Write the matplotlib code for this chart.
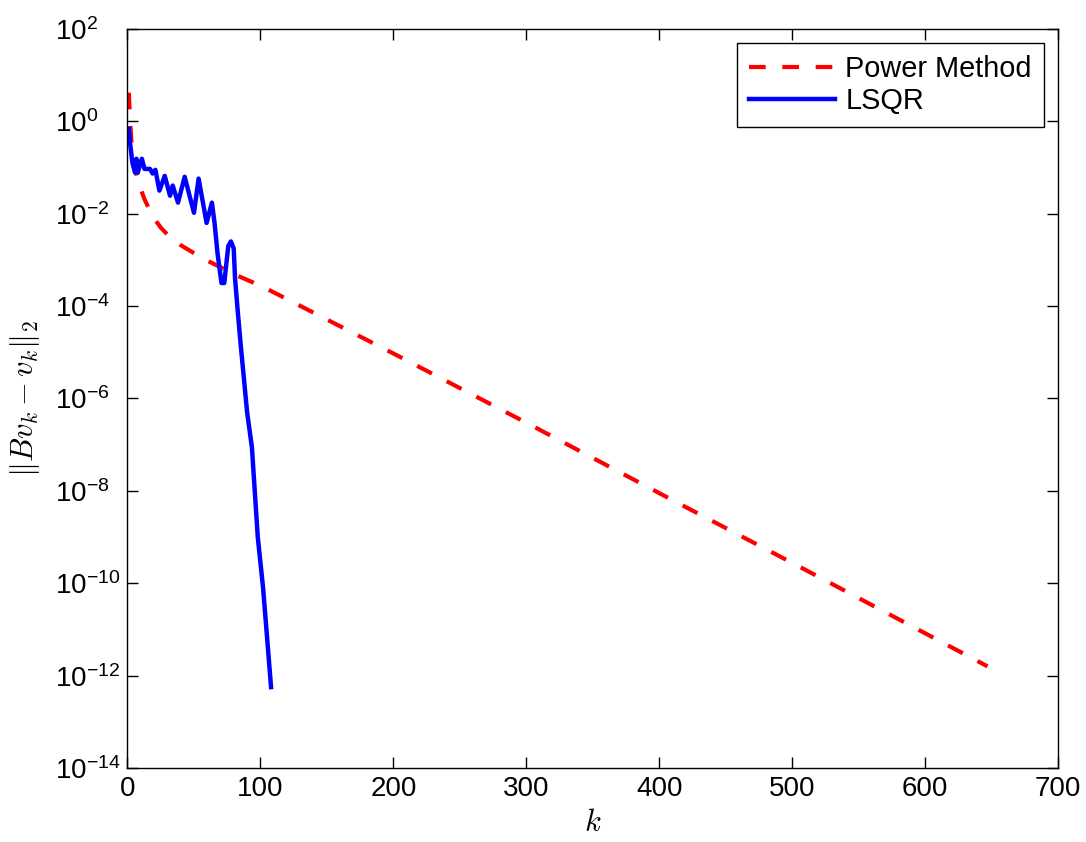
import numpy as np
import matplotlib
matplotlib.use("Agg")
import matplotlib.pyplot as plt
from matplotlib.ticker import FuncFormatter, NullLocator

plt.rcParams["font.family"] = ["Liberation Sans", "DejaVu Sans"]
plt.rcParams["mathtext.fontset"] = "custom"
plt.rcParams["mathtext.rm"] = "Liberation Sans"

# Power method residual (log10)
k_power = [1, 2, 3, 4, 6, 8, 10, 13, 16, 20, 25, 30, 40, 51, 61, 81, 101,
           152, 203, 305, 406, 508, 609, 647]
log_power = [0.62, 0.0, -0.45, -0.75, -1.05, -1.3, -1.47, -1.7, -1.88, -2.1,
             -2.3, -2.45, -2.68, -2.87, -3.03, -3.32, -3.57, -4.32, -5.07,
             -6.6, -8.14, -9.68, -11.22, -11.8]

# LSQR residual (log10)
k_lsqr = [1, 2, 3.7, 5.7, 6.7, 7.7, 10.8, 12.8, 16.9, 18.9, 21, 24, 28, 32,
          34, 38, 43, 50, 53.5, 59.5, 63.5, 65.5, 67.7, 70.7, 72.8, 75.8,
          77.8, 79.9, 80.9, 82.9, 85, 90, 93.6, 98, 102, 108]
log_lsqr = [-0.16, -0.49, -0.9, -1.11, -0.81, -1.11, -0.81, -1.03, -1.03,
            -1.13, -1.05, -1.5, -1.18, -1.61, -1.39, -1.76, -1.2, -1.98,
            -1.24, -2.2, -1.76, -2.2, -2.85, -3.5, -3.5, -2.7, -2.6, -2.75,
            -3.4, -4.1, -4.79, -6.3, -7.06, -9.0, -10.1, -12.25]

fig = plt.figure(figsize=(10.86, 8.42), dpi=100)
ax = fig.add_axes([0.1174, 0.0879, 0.8568, 0.8777])

ax.semilogy(k_power, 10.0 ** np.array(log_power), color="red", lw=3,
            linestyle=(0, (4, 4)), label="Power Method")
ax.semilogy(k_lsqr, 10.0 ** np.array(log_lsqr), color="blue", lw=3.2,
            label="LSQR")

ax.set_xlim(0, 700)
ax.set_ylim(1e-14, 1e2)
ax.set_xticks(np.arange(0, 701, 100))
ax.set_yticks([10.0 ** e for e in range(-14, 3, 2)])
ax.yaxis.set_minor_locator(NullLocator())
ax.yaxis.set_major_formatter(FuncFormatter(
    lambda v, p: r"$\mathregular{10^{%d}}$" % round(np.log10(v))))
ax.tick_params(direction="in", length=8, width=1, labelsize=20,
               top=True, right=True, pad=6)
# MATLAB-style: y labels share a left edge
ax.tick_params(axis="y", pad=52)
for lab in ax.get_yticklabels():
    lab.set_horizontalalignment("left")
for s in ax.spines.values():
    s.set_linewidth(1)

ax.set_xlabel(r"$k$", fontsize=22, math_fontfamily="cm", labelpad=4)
ax.set_ylabel(r"$\|Bv_k - v_k\|_2$", fontsize=22, math_fontfamily="cm")
ax.yaxis.set_label_coords(-0.092, 0.5)

leg = ax.legend(loc="upper right", fontsize=20.8, handlelength=3.0,
                fancybox=False, edgecolor="black", framealpha=1,
                borderaxespad=0.5, borderpad=0.4, labelspacing=0.15,
                handletextpad=0.35)
leg.get_frame().set_linewidth(1)

fig.savefig("out.png", dpi=100)
